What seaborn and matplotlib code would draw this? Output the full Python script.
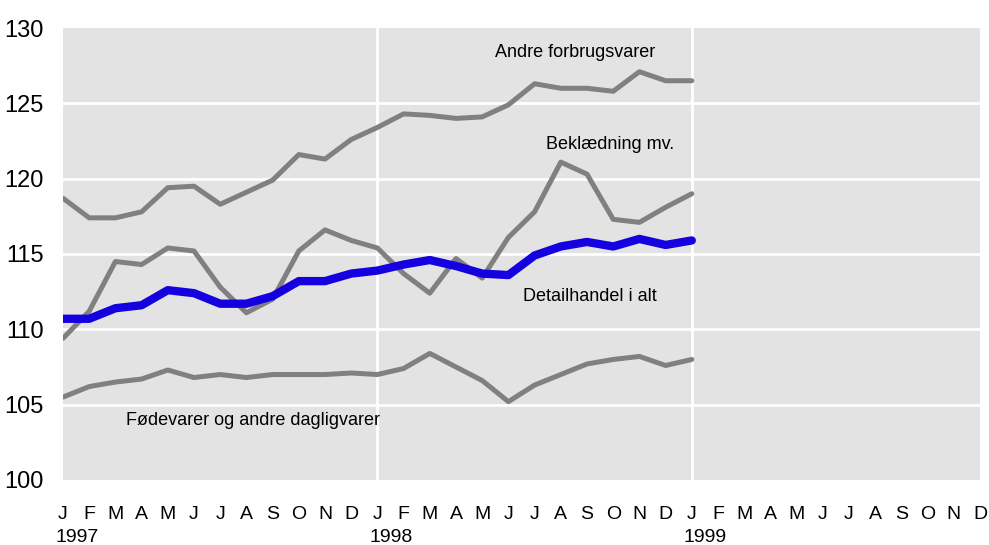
import matplotlib
matplotlib.use('Agg')
import matplotlib.pyplot as plt
import matplotlib.transforms as mtransforms
import seaborn as sns
import pandas as pd

months = ['J', 'F', 'M', 'A', 'M', 'J', 'J', 'A', 'S', 'O', 'N', 'D'] * 3
years = ['1997', '1998', '1999']

andre = [118.7, 117.4, 117.4, 117.8, 119.4, 119.5, 118.3, 119.1, 119.9, 121.6, 121.3, 122.6,
         123.4, 124.3, 124.2, 124.0, 124.1, 124.9, 126.3, 126.0, 126.0, 125.8, 127.1, 126.5, 126.5]
beklaedning = [109.4, 111.2, 114.5, 114.3, 115.4, 115.2, 112.8, 111.1, 112.0, 115.2, 116.6, 115.9,
               115.4, 113.7, 112.4, 114.7, 113.4, 116.1, 117.8, 121.1, 120.3, 117.3, 117.1, 118.1, 119.0]
detail = [110.7, 110.7, 111.4, 111.6, 112.6, 112.4, 111.7, 111.7, 112.2, 113.2, 113.2, 113.7,
          113.9, 114.3, 114.6, 114.2, 113.7, 113.6, 114.9, 115.5, 115.8, 115.5, 116.0, 115.6, 115.9]
foede = [105.5, 106.2, 106.5, 106.7, 107.3, 106.8, 107.0, 106.8, 107.0, 107.0, 107.0, 107.1,
         107.0, 107.4, 108.4, 107.5, 106.6, 105.2, 106.3, 107.0, 107.7, 108.0, 108.2, 107.6, 108.0]

df = pd.DataFrame({
    'month': range(len(andre)),
    'Andre forbrugsvarer': andre,
    'Beklædning mv.': beklaedning,
    'Detailhandel i alt': detail,
    'Fødevarer og andre dagligvarer': foede,
})

sns.set_style('white')
plt.rcParams['font.family'] = ['Liberation Sans Narrow', 'Liberation Sans', 'DejaVu Sans']
plt.rcParams['text.color'] = 'black'
plt.rcParams['xtick.color'] = 'black'
plt.rcParams['ytick.color'] = 'black'

fig = plt.figure(figsize=(9.89, 5.45), dpi=100)
ax = fig.add_axes([0.0637, 0.1193, 0.9272, 0.8293])
ax.set_facecolor('#e3e3e3')

grey = '#808080'
for col in ['Andre forbrugsvarer', 'Beklædning mv.', 'Fødevarer og andre dagligvarer']:
    sns.lineplot(data=df, x='month', y=col, ax=ax, color=grey, linewidth=3.6, zorder=3)
sns.lineplot(data=df, x='month', y='Detailhandel i alt', ax=ax, color='#1500e0',
             linewidth=6, zorder=4, solid_capstyle='round')

# gridlines
for y in [105, 110, 115, 120, 125]:
    ax.axhline(y, color='white', linewidth=2, zorder=1)
for x in [12, 24]:
    ax.axvline(x, color='white', linewidth=2, zorder=1)

ax.set_xlim(0, 35)
ax.set_ylim(100, 130)
ax.set_yticks([100, 105, 110, 115, 120, 125, 130])
ax.set_xticks(range(36))
ax.set_xticklabels(months)
ax.tick_params(axis='y', length=0, pad=14, labelsize=17)
ax.tick_params(axis='x', length=0, pad=19, labelsize=14)
ax.set_xlabel('')
ax.set_ylabel('')
for s in ax.spines.values():
    s.set_visible(False)

trans = mtransforms.blended_transform_factory(ax.transData, ax.transAxes)
for i, yr in enumerate(years):
    ax.text(i * 12 - 0.3, -0.127, yr, transform=trans, ha='left', va='center', fontsize=14)

ax.text(19.54, 128.4, 'Andre forbrugsvarer', ha='center', va='center', fontsize=13)
ax.text(20.88, 122.25, 'Beklædning mv.', ha='center', va='center', fontsize=13)
ax.text(20.1, 112.15, 'Detailhandel i alt', ha='center', va='center', fontsize=13)
ax.text(2.4, 103.95, 'Fødevarer og andre dagligvarer', ha='left', va='center', fontsize=13)

fig.savefig('out.png', dpi=100)
